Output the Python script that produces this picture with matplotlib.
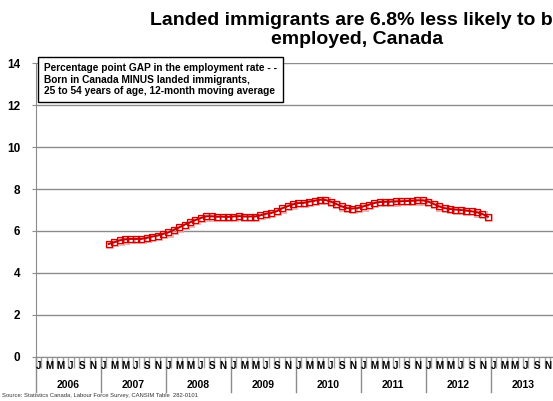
import matplotlib.pyplot as plt
import matplotlib.transforms as mtransforms
import numpy as np

# 12-month moving average of the gap, Feb 2007 .. Dec 2012
start_year, start_month = 2007, 2
gap = [5.38, 5.46, 5.55, 5.60, 5.62, 5.62, 5.62, 5.67, 5.73, 5.78, 5.86, 5.93,
       6.05, 6.17, 6.30, 6.41, 6.52, 6.62, 6.70, 6.70, 6.68, 6.68, 6.67, 6.69,
       6.71, 6.69, 6.69, 6.69, 6.75, 6.82, 6.86, 6.94, 7.08, 7.18, 7.27, 7.33,
       7.34, 7.40, 7.44, 7.49, 7.48, 7.40, 7.29, 7.17, 7.09, 7.07, 7.09, 7.17,
       7.25, 7.33, 7.38, 7.39, 7.40, 7.41, 7.42, 7.43, 7.44, 7.46, 7.46, 7.40,
       7.29, 7.17, 7.09, 7.05, 7.02, 7.00, 6.97, 6.94, 6.89, 6.81, 6.68]
years = [2006, 2007, 2008, 2009, 2010, 2011, 2012, 2013]
month_letters = ['J', 'M', 'M', 'J', 'S', 'N']
yticks = [0, 2, 4, 6, 8, 10, 12, 14]

plt.rcParams['font.family'] = ['Liberation Sans', 'DejaVu Sans']
plt.rcParams['font.weight'] = 'bold'

fig = plt.figure(figsize=(5.53, 4.01), dpi=100)
ax = fig.add_axes([0.0646, 0.1105, 0.94, 0.7315])

n_months = 12 * len(years)
offset = (start_year - years[0]) * 12 + (start_month - 1)
x = np.arange(len(gap)) + offset + 0.5

# pink shadow under the markers
shadow = mtransforms.offset_copy(ax.transData, fig=fig, x=1.2, y=-1.2, units='dots')
ax.plot(x, gap, ls='none', marker='s', ms=4.2, mfc='none', mec='#eaa5a5',
        mew=1.5, alpha=0.8, transform=shadow, zorder=3)
ax.plot(x, gap, color='#c00000', lw=1.4, marker='s', ms=4.2, mfc='none',
        mec='#d00000', mew=0.9, zorder=4)

ax.set_xlim(0, n_months)
ax.set_ylim(0, 14)
ax.set_yticks(yticks)
ax.set_yticklabels([str(v) for v in yticks], fontsize=8.5, fontweight='bold')
ax.grid(axis='y', color='#8c8c8c', lw=1)
ax.set_axisbelow(True)
for s in ['top', 'right']:
    ax.spines[s].set_visible(False)
ax.spines['left'].set_color('#8c8c8c')
ax.spines['bottom'].set_color('#8c8c8c')
ax.tick_params(axis='y', length=3, color='#8c8c8c', pad=8)

# month ticks and labels
ax.set_xticks(np.arange(n_months + 1))
ax.set_xticklabels([])
ax.tick_params(axis='x', length=8, color='#a0a0a0', width=1)
tr = ax.get_xaxis_transform()
for i, yr in enumerate(years):
    for j, m in enumerate(month_letters):
        ax.text(i * 12 + j * 2 + 0.5, -0.032, m, transform=tr, ha='center',
                va='center', fontsize=7, fontweight='bold', clip_on=False)
    ax.text(i * 12 + 6, -0.098, str(yr), transform=tr, ha='center',
            va='center', fontsize=7.5, fontweight='bold', clip_on=False)
    ax.plot([i * 12, i * 12], [0, -0.12], transform=tr, color='#8c8c8c',
            lw=1, clip_on=False)

fig.text(0.645, 0.925, 'Landed immigrants are 6.8% less likely to be\nemployed, Canada',
         ha='center', va='center', fontsize=14, fontweight='bold',
         linespacing=1.1)

ax.text(0.0166, 1.001,
        'Percentage point GAP in the employment rate - -\n'
        'Born in Canada MINUS landed immigrants,\n'
        '25 to 54 years of age, 12-month moving average',
        transform=ax.transAxes, ha='left', va='top', fontsize=7.3,
        fontweight='bold', linespacing=1.2, zorder=5,
        bbox=dict(boxstyle='square,pad=0.6', fc='white', ec='black', lw=1))

fig.text(0.004, 0.008, 'Source: Statistics Canada, Labour Force Survey, CANSIM Table  282-0101',
         fontsize=4.2, fontweight='normal', color='#333333', ha='left', va='bottom')

fig.savefig('out.png', dpi=100)
